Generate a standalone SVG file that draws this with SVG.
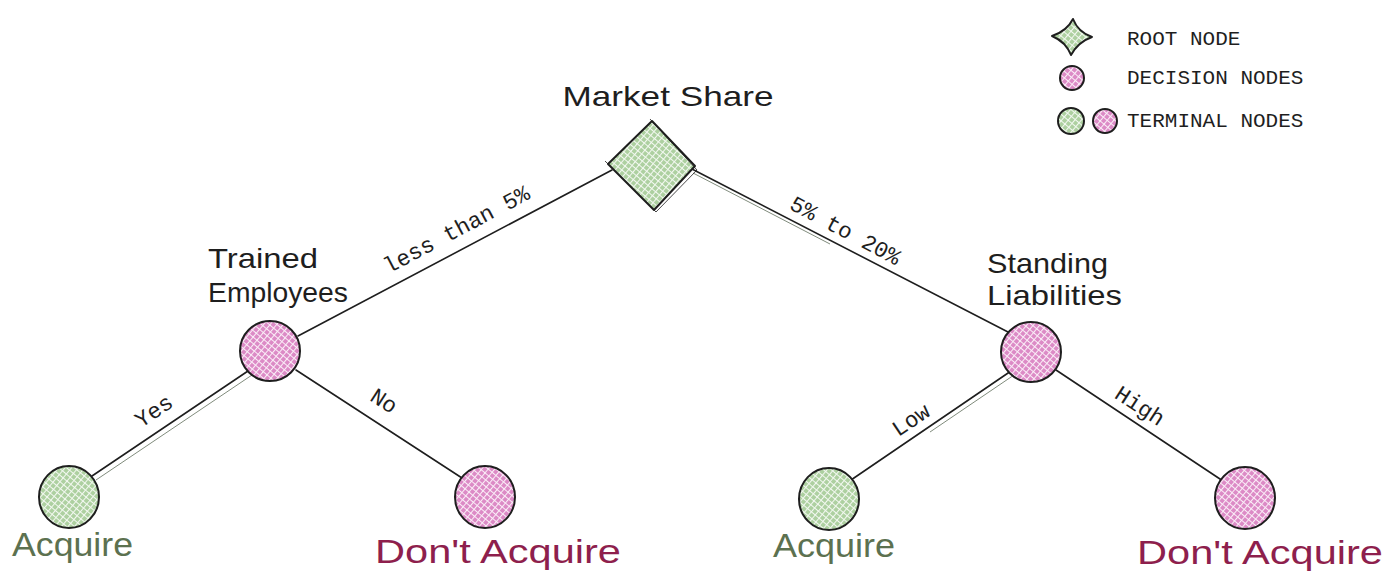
<svg xmlns="http://www.w3.org/2000/svg" width="1400" height="582" viewBox="0 0 1400 582">
<defs>
  <pattern id="hg" width="5" height="5" patternUnits="userSpaceOnUse" patternTransform="rotate(40)">
    <rect width="5" height="5" fill="#add0a0"/>
    <path d="M0,0.5H5M0.5,0V5" stroke="#ffffff" stroke-width="1.1" opacity="0.85"/>
  </pattern>
  <pattern id="hp" width="5" height="5" patternUnits="userSpaceOnUse" patternTransform="rotate(40)">
    <rect width="5" height="5" fill="#dc8ac6"/>
    <path d="M0,0.5H5M0.5,0V5" stroke="#ffffff" stroke-width="1.1" opacity="0.85"/>
  </pattern>
  <style>
    .edge{stroke:#1e1e1e;stroke-width:1.6;fill:none;stroke-linecap:round}
    .edge2{stroke:#4a5a44;stroke-width:1;fill:none;opacity:0.7}
    .ol{stroke:#1e1e1e;stroke-width:2;stroke-linejoin:round}
    .ol2{stroke:#1e1e1e;stroke-width:1;fill:none;opacity:0.8}
    .g{fill:url(#hg)}
    .p{fill:url(#hp)}
    .mono{font-family:"Liberation Mono","DejaVu Sans Mono",monospace;font-size:22.5px;fill:#1e1e1e}
    .leg{font-family:"Liberation Mono","DejaVu Sans Mono",monospace;font-size:21px;fill:#1e1e1e}
    .hand{font-family:"Liberation Sans","DejaVu Sans",sans-serif;font-size:28px;fill:#1e1e1e}
    .big{font-family:"Liberation Sans","DejaVu Sans",sans-serif;font-size:33px}
  </style>
</defs>
<rect width="1400" height="582" fill="#ffffff"/>

<g id="connectors">
  <line class="edge" x1="612" y1="170" x2="298" y2="336"/>
  <line class="edge" x1="690" y1="168" x2="1008" y2="332"/>
  <line class="edge2" x1="693" y1="173" x2="830" y2="244"/>
  <line class="edge" x1="248" y1="371" x2="92" y2="476"/>
  <line class="edge2" x1="252" y1="375" x2="96" y2="480"/>
  <line class="edge" x1="296" y1="370" x2="462" y2="478"/>
  <line class="edge" x1="1011" y1="371" x2="851" y2="480"/>
  <line class="edge2" x1="1014" y1="375" x2="930" y2="432"/>
  <line class="edge" x1="1056" y1="370" x2="1226" y2="483"/>
  <text class="mono" transform="translate(460,236) rotate(-28)" text-anchor="middle">less than 5%</text>
  <text class="mono" transform="translate(842,237) rotate(28)" text-anchor="middle">5% to 20%</text>
  <text class="mono" transform="translate(158,417) rotate(-34)" text-anchor="middle">Yes</text>
  <text class="mono" transform="translate(380,407) rotate(33)" text-anchor="middle">No</text>
  <text class="mono" transform="translate(915,426) rotate(-34)" text-anchor="middle">Low</text>
  <text class="mono" transform="translate(1136,412) rotate(33)" text-anchor="middle">High</text>
</g>

<g id="root">
  <path class="g ol" d="M652,121 L695,166 L654,210 L608,164 Z"/>
  <path class="ol2" d="M650,119 L697,170 L656,212 L605,161"/>
  <text class="hand" x="668" y="106" text-anchor="middle" textLength="211" lengthAdjust="spacingAndGlyphs">Market Share</text>
</g>

<g id="trained-employees">
  <ellipse class="p ol" cx="270" cy="351" rx="30" ry="30"/>
  <text class="hand" x="208" y="268" textLength="110" lengthAdjust="spacingAndGlyphs">Trained</text>
  <text class="hand" x="208" y="302" textLength="140" lengthAdjust="spacingAndGlyphs">Employees</text>
</g>

<g id="standing-liabilities">
  <ellipse class="p ol" cx="1031" cy="352" rx="30" ry="30"/>
  <text class="hand" x="987" y="273" textLength="121" lengthAdjust="spacingAndGlyphs">Standing</text>
  <text class="hand" x="987" y="305" textLength="135" lengthAdjust="spacingAndGlyphs">Liabilities</text>
</g>

<g id="acquire-left">
  <ellipse class="g ol" cx="69" cy="497" rx="30" ry="31"/>
  <text class="big" x="12" y="556" fill="#5c7150" textLength="121" lengthAdjust="spacingAndGlyphs">Acquire</text>
</g>

<g id="dont-acquire-left">
  <ellipse class="p ol" cx="485" cy="497" rx="30" ry="31"/>
  <text class="big" x="375" y="563" fill="#8e1f4d" textLength="246" lengthAdjust="spacingAndGlyphs">Don't Acquire</text>
</g>

<g id="acquire-right">
  <ellipse class="g ol" cx="829" cy="499" rx="30" ry="31"/>
  <text class="big" x="773" y="557" fill="#5c7150" textLength="122" lengthAdjust="spacingAndGlyphs">Acquire</text>
</g>

<g id="dont-acquire-right">
  <ellipse class="p ol" cx="1245" cy="498" rx="30" ry="31"/>
  <text class="big" x="1137" y="564" fill="#8e1f4d" textLength="246" lengthAdjust="spacingAndGlyphs">Don't Acquire</text>
</g>

<g id="legend">
  <path class="g ol" d="M1073,19 Q1078,32 1092,37 Q1078,42 1071,55 Q1066,42 1052,36 Q1067,31 1073,19 Z"/>
  <circle class="p ol" cx="1072" cy="78" r="12"/>
  <circle class="g ol" cx="1071" cy="121" r="13"/>
  <circle class="p ol" cx="1105" cy="121" r="12"/>
  <text class="leg" x="1127" y="45">ROOT NODE</text>
  <text class="leg" x="1127" y="84">DECISION NODES</text>
  <text class="leg" x="1127" y="127">TERMINAL NODES</text>
</g>
</svg>
